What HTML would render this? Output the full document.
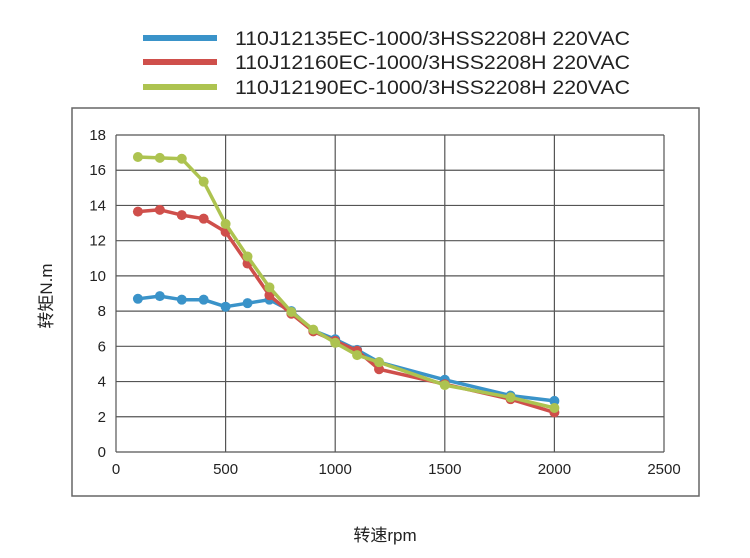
<!DOCTYPE html>
<html><head><meta charset="utf-8"><style>
body{margin:0;background:#fff;}
svg{display:block;font-family:"Liberation Sans","Noto Sans CJK SC",sans-serif;}
</style></head><body>
<svg id="s" width="750" height="558" xmlns="http://www.w3.org/2000/svg">
<rect x="72" y="108" width="627" height="388" fill="#fff" stroke="#666" stroke-width="1.5"/>
<g id="grid" stroke="#555" stroke-width="1.2"></g>
<g id="ticks" font-size="15" fill="#222"></g>
<g id="series"></g>
<g font-size="19" fill="#222" style="white-space:pre">
<line x1="143" y1="38" x2="217" y2="38" stroke="#3a93c9" stroke-width="6"/>
<line x1="143" y1="62" x2="217" y2="62" stroke="#cf4f4b" stroke-width="6"/>
<line x1="143" y1="87" x2="217" y2="87" stroke="#adc350" stroke-width="6"/>
<text x="235" y="45" textLength="395" lengthAdjust="spacingAndGlyphs">110J12135EC-1000/3HSS2208H  220VAC</text>
<text x="235" y="69" textLength="395" lengthAdjust="spacingAndGlyphs">110J12160EC-1000/3HSS2208H  220VAC</text>
<text x="235" y="94" textLength="395" lengthAdjust="spacingAndGlyphs">110J12190EC-1000/3HSS2208H  220VAC</text>
</g>
<text x="52" y="296" font-size="17" fill="#222" text-anchor="middle" transform="rotate(-90 52 296)">转矩N.m</text>
<text x="385" y="541" font-size="17" fill="#222" text-anchor="middle">转速rpm</text>
</svg>
<script>
var L=116,T=135,R=664,B=452;
function X(v){return L+(R-L)*v/2500}
function Y(v){return B-(B-T)*v/18}
var g=document.getElementById('grid'),t=document.getElementById('ticks'),h='',tt='';
for(var i=0;i<=18;i+=2){h+='<line x1="'+L+'" x2="'+R+'" y1="'+Y(i)+'" y2="'+Y(i)+'"/>';tt+='<text x="'+(L-10)+'" y="'+(Y(i)+5)+'" text-anchor="end">'+i+'</text>';}
for(var j=0;j<=2500;j+=500){h+='<line y1="'+T+'" y2="'+B+'" x1="'+X(j)+'" x2="'+X(j)+'"/>';tt+='<text x="'+X(j)+'" y="'+(B+22)+'" text-anchor="middle">'+j+'</text>';}
g.innerHTML=h;t.innerHTML=tt;
var xs=[100,200,300,400,500,600,700,800,900,1000,1100,1200,1500,1800,2000];
var d=[["#3a93c9",[8.7,8.85,8.65,8.65,8.25,8.45,8.65,8.0,6.9,6.4,5.8,5.1,4.1,3.2,2.9]],
["#cf4f4b",[13.65,13.75,13.45,13.25,12.5,10.7,8.9,7.85,6.85,6.3,5.75,4.7,3.85,3.0,2.25]],
["#adc350",[16.75,16.7,16.65,15.35,12.95,11.1,9.35,7.95,6.95,6.2,5.5,5.1,3.8,3.1,2.5]]];
var s='';
d.forEach(function(q){var p=xs.map(function(x,k){return X(x).toFixed(1)+','+Y(q[1][k]).toFixed(1)}).join(' ');
s+='<polyline points="'+p+'" fill="none" stroke="'+q[0]+'" stroke-width="3.5" stroke-linejoin="round"/>';
xs.forEach(function(x,k){s+='<circle cx="'+X(x)+'" cy="'+Y(q[1][k])+'" r="5" fill="'+q[0]+'"/>';});});
document.getElementById('series').innerHTML=s;
</script>
</body></html>
